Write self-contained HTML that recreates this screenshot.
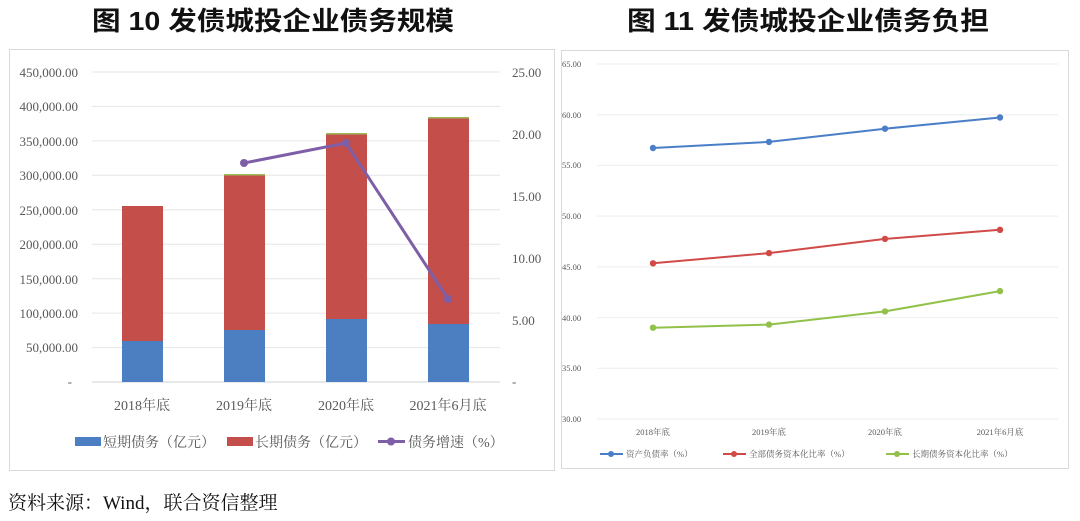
<!DOCTYPE html>
<html><head><meta charset="utf-8"><style>
body{margin:0;background:#fff;}
svg{display:block}
.t{font-family:"Liberation Sans","Noto Sans CJK SC",sans-serif;font-weight:bold;font-size:26px;fill:#111}
.a{font-family:"Liberation Serif","Noto Serif CJK SC",serif;font-size:13px;fill:#595959}
.b{font-family:"Liberation Serif","Noto Serif CJK SC",serif;font-size:8.5px;fill:#595959}
</style></head><body>
<svg width="1080" height="521" viewBox="0 0 1080 521" xmlns="http://www.w3.org/2000/svg">
<text class="t" x="92" y="30" textLength="362" lengthAdjust="spacingAndGlyphs">图 10   发债城投企业债务规模</text>
<text class="t" x="627" y="30" textLength="362" lengthAdjust="spacingAndGlyphs">图 11   发债城投企业债务负担</text>
<rect x="9.5" y="49.5" width="545" height="421" fill="#fff" stroke="#d9d9d9"/>
<g stroke="#e6e6e6" stroke-width="1">
<line x1="92" x2="500" y1="72" y2="72"/><line x1="92" x2="500" y1="106.4" y2="106.4"/>
<line x1="92" x2="500" y1="140.9" y2="140.9"/><line x1="92" x2="500" y1="175.3" y2="175.3"/>
<line x1="92" x2="500" y1="209.8" y2="209.8"/><line x1="92" x2="500" y1="244.2" y2="244.2"/>
<line x1="92" x2="500" y1="278.7" y2="278.7"/><line x1="92" x2="500" y1="313.1" y2="313.1"/>
<line x1="92" x2="500" y1="347.6" y2="347.6"/><line x1="92" x2="500" y1="382" y2="382" stroke="#d0d0d0"/>
</g>
<g class="a" text-anchor="end">
<text x="78" y="77">450,000.00</text><text x="78" y="111">400,000.00</text>
<text x="78" y="146">350,000.00</text><text x="78" y="180">300,000.00</text>
<text x="78" y="215">250,000.00</text><text x="78" y="249">200,000.00</text>
<text x="78" y="284">150,000.00</text><text x="78" y="318">100,000.00</text>
<text x="78" y="352">50,000.00</text><text x="72" y="386">-</text>
</g>
<g class="a">
<text x="512" y="77">25.00</text><text x="512" y="139">20.00</text>
<text x="512" y="201">15.00</text><text x="512" y="263">10.00</text>
<text x="512" y="325">5.00</text><text x="512" y="386">-</text>
</g>
<g>
<rect x="122" y="341" width="41" height="41" fill="#4b7fc1"/><rect x="122" y="206" width="41" height="135" fill="#c44f4a"/>
<rect x="224" y="330" width="41" height="52" fill="#4b7fc1"/><rect x="224" y="175" width="41" height="155" fill="#c44f4a"/><rect x="224" y="174" width="41" height="1.5" fill="#9bbb59"/>
<rect x="326" y="319" width="41" height="63" fill="#4b7fc1"/><rect x="326" y="134" width="41" height="185" fill="#c44f4a"/><rect x="326" y="133" width="41" height="1.5" fill="#9bbb59"/>
<rect x="428" y="324" width="41" height="58" fill="#4b7fc1"/><rect x="428" y="118" width="41" height="206" fill="#c44f4a"/><rect x="428" y="117" width="41" height="1.5" fill="#9bbb59"/>
</g>
<polyline points="244,163 346,143 448,299" fill="none" stroke="#7f5ea8" stroke-width="3"/>
<g fill="#7f5ea8"><circle cx="244" cy="163" r="4"/><circle cx="346" cy="143" r="4"/><circle cx="448" cy="299" r="4"/></g>
<g class="a" text-anchor="middle" style="font-size:14px">
<text x="142" y="410">2018年底</text><text x="244" y="410">2019年底</text>
<text x="346" y="410">2020年底</text><text x="448" y="410">2021年6月底</text>
</g>
<g class="a" style="font-size:14px">
<rect x="75" y="437" width="26" height="9" fill="#4b7fc1"/><text x="103" y="447">短期债务（亿元）</text>
<rect x="227" y="437" width="26" height="9" fill="#c44f4a"/><text x="255" y="447">长期债务（亿元）</text>
<line x1="378" x2="405" y1="441.5" y2="441.5" stroke="#7f5ea8" stroke-width="3"/><circle cx="391" cy="441.5" r="4" fill="#7f5ea8"/><text x="408" y="447">债务增速（%）</text>
</g>
<rect x="561.5" y="50.5" width="507" height="418" fill="#fff" stroke="#d9d9d9"/>
<g stroke="#eeeeee">
<line x1="597" x2="1058" y1="64" y2="64"/><line x1="597" x2="1058" y1="114.7" y2="114.7"/>
<line x1="597" x2="1058" y1="165.4" y2="165.4"/><line x1="597" x2="1058" y1="216.1" y2="216.1"/>
<line x1="597" x2="1058" y1="266.9" y2="266.9"/><line x1="597" x2="1058" y1="317.6" y2="317.6"/>
<line x1="597" x2="1058" y1="368.3" y2="368.3"/><line x1="597" x2="1058" y1="419" y2="419"/>
</g>
<g class="b">
<text x="562" y="67">65.00</text><text x="562" y="118">60.00</text><text x="562" y="168">55.00</text>
<text x="562" y="219">50.00</text><text x="562" y="270">45.00</text><text x="562" y="321">40.00</text>
<text x="562" y="371">35.00</text><text x="562" y="422">30.00</text>
</g>
<g fill="none" stroke-width="2">
<polyline points="653,148 769,141.9 885,128.7 1000,117.5" stroke="#4a7fc8"/>
<polyline points="653,263.3 769,253.1 885,238.9 1000,229.8" stroke="#d04b48"/>
<polyline points="653,327.7 769,324.6 885,311.4 1000,291.1" stroke="#92c14a"/>
</g>
<g fill="#4a7fc8"><circle cx="653" cy="148" r="3.2"/><circle cx="769" cy="141.9" r="3.2"/><circle cx="885" cy="128.7" r="3.2"/><circle cx="1000" cy="117.5" r="3.2"/></g>
<g fill="#d04b48"><circle cx="653" cy="263.3" r="3.2"/><circle cx="769" cy="253.1" r="3.2"/><circle cx="885" cy="238.9" r="3.2"/><circle cx="1000" cy="229.8" r="3.2"/></g>
<g fill="#92c14a"><circle cx="653" cy="327.7" r="3.2"/><circle cx="769" cy="324.6" r="3.2"/><circle cx="885" cy="311.4" r="3.2"/><circle cx="1000" cy="291.1" r="3.2"/></g>
<g class="b" text-anchor="middle">
<text x="653" y="435">2018年底</text><text x="769" y="435">2019年底</text>
<text x="885" y="435">2020年底</text><text x="1000" y="435">2021年6月底</text>
</g>
<g class="b">
<line x1="600" x2="623" y1="454" y2="454" stroke="#4a7fc8" stroke-width="2"/><circle cx="611" cy="454" r="3" fill="#4a7fc8"/><text x="626" y="457">资产负债率（%）</text>
<line x1="723" x2="746" y1="454" y2="454" stroke="#d04b48" stroke-width="2"/><circle cx="734" cy="454" r="3" fill="#d04b48"/><text x="749" y="457">全部债务资本化比率（%）</text>
<line x1="886" x2="909" y1="454" y2="454" stroke="#92c14a" stroke-width="2"/><circle cx="897" cy="454" r="3" fill="#92c14a"/><text x="912" y="457">长期债务资本化比率（%）</text>
</g>
<text x="8" y="509" style="font-family:'Liberation Serif','Noto Serif CJK SC',serif;font-size:19px;fill:#111">资料来源：Wind，联合资信整理</text>
</svg>
</body></html>
